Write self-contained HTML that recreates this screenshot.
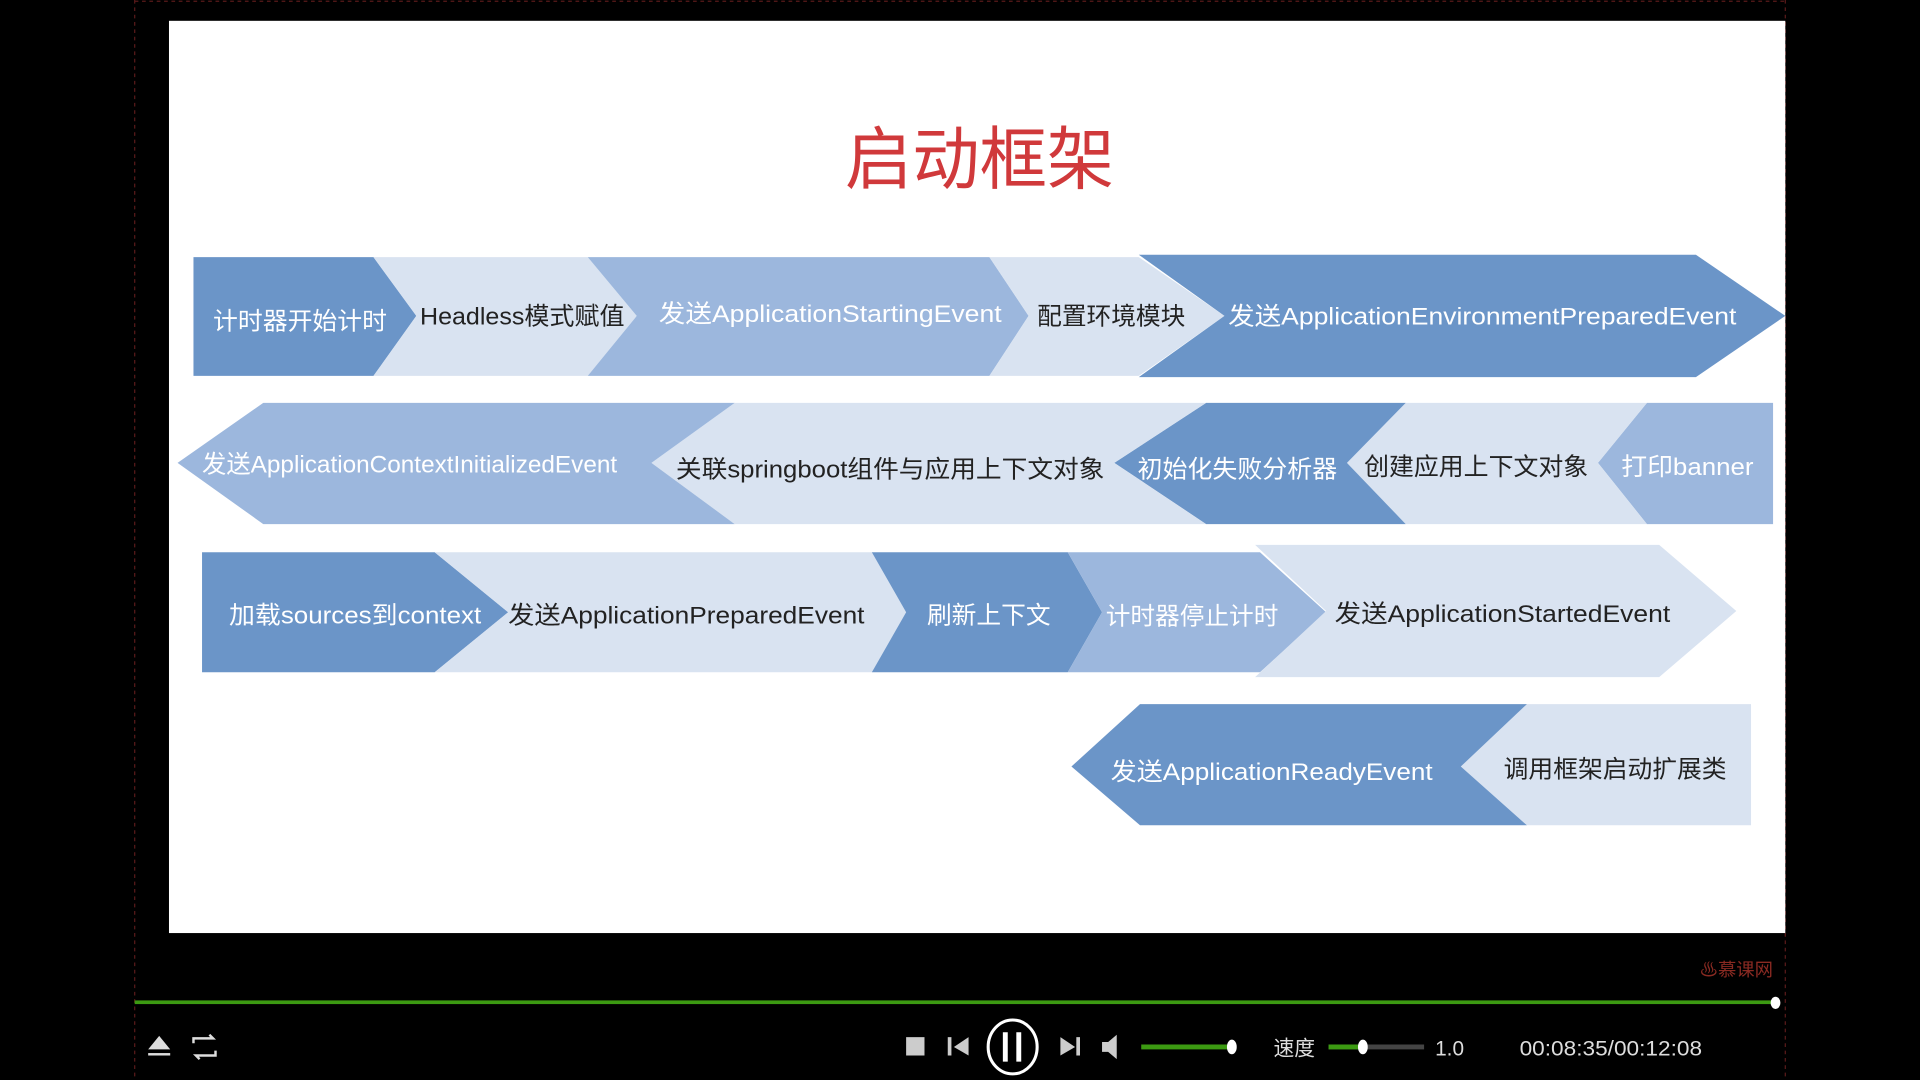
<!DOCTYPE html>
<html><head><meta charset="utf-8"><style>
html,body{margin:0;padding:0;background:#000;width:1920px;height:1080px;overflow:hidden}
svg{display:block}
text{font-family:"Liberation Sans","Noto Sans CJK SC",sans-serif}
</style></head><body>
<svg width="1920" height="1080" viewBox="0 0 1568 882" preserveAspectRatio="none">
<rect x="0" y="0" width="1568" height="882" fill="#000"/>
<line x1="110" y1="0" x2="110" y2="882" stroke="#5a1a1a" stroke-width="1" stroke-dasharray="3,3"/>
<line x1="1458" y1="0" x2="1458" y2="882" stroke="#5a1a1a" stroke-width="1" stroke-dasharray="3,3"/>
<line x1="110" y1="1" x2="1458" y2="1" stroke="#5a1a1a" stroke-width="1" stroke-dasharray="3,3"/>
<rect x="138" y="17" width="1320" height="745" fill="#fff"/>
<text x="800" y="150" text-anchor="middle" font-size="56" fill="#d0393b" textLength="220" lengthAdjust="spacingAndGlyphs">启动框架</text>

<g font-size="20">
<!-- row1 -->
<polygon fill="#6b95c8" points="158,210 305,210 340,258 305,307 158,307"/>
<polygon fill="#d9e3f1" points="305,210 480,210 520,258 480,307 305,307 340,258"/>
<polygon fill="#9cb7dd" points="480,210 808,210 840,258 808,307 480,307 520,258"/>
<polygon fill="#d9e3f1" points="808,210 930,210 1000,258 930,307 808,307 840,258"/>
<polygon fill="#6b95c8" points="930,208 1385,208 1458,258 1385,308 930,308 1000,258"/>
<text x="174" y="269" fill="#fff" textLength="142" lengthAdjust="spacingAndGlyphs">计时器开始计时</text>
<text x="343" y="265" fill="#222" textLength="167" lengthAdjust="spacingAndGlyphs">Headless模式赋值</text>
<text x="538" y="263" fill="#fff" textLength="280" lengthAdjust="spacingAndGlyphs">发送ApplicationStartingEvent</text>
<text x="847" y="265" fill="#222" textLength="121" lengthAdjust="spacingAndGlyphs">配置环境模块</text>
<text x="1003" y="265" fill="#fff" textLength="415" lengthAdjust="spacingAndGlyphs">发送ApplicationEnvironmentPreparedEvent</text>
<!-- row2 -->
<polygon fill="#9cb7dd" points="1448,329 1345,329 1305,378 1345,428 1448,428"/>
<polygon fill="#d9e3f1" points="1345,329 1148,329 1100,378 1148,428 1345,428 1305,378"/>
<polygon fill="#6b95c8" points="1148,329 985,329 910,378 985,428 1148,428 1100,378"/>
<polygon fill="#d9e3f1" points="985,329 600,329 532,378 600,428 985,428 910,378"/>
<polygon fill="#9cb7dd" points="600,329 215,329 145,378 215,428 600,428 532,378"/>
<text x="1324" y="388" fill="#fff" textLength="108" lengthAdjust="spacingAndGlyphs">打印banner</text>
<text x="1114" y="388" fill="#222" textLength="183" lengthAdjust="spacingAndGlyphs">创建应用上下文对象</text>
<text x="929" y="390" fill="#fff" textLength="163" lengthAdjust="spacingAndGlyphs">初始化失败分析器</text>
<text x="552" y="390" fill="#222" textLength="350" lengthAdjust="spacingAndGlyphs">关联springboot组件与应用上下文对象</text>
<text x="165" y="386" fill="#fff" textLength="339" lengthAdjust="spacingAndGlyphs">发送ApplicationContextInitializedEvent</text>
<!-- row3 -->
<polygon fill="#6b95c8" points="165,451 355,451 415,500 355,549 165,549"/>
<polygon fill="#d9e3f1" points="355,451 712,451 740,500 712,549 355,549 415,500"/>
<polygon fill="#6b95c8" points="712,451 872,451 900,500 872,549 712,549 740,500"/>
<polygon fill="#9cb7dd" points="872,451 1029,451 1083,500 1029,549 872,549 900,500"/>
<polygon fill="#d9e3f1" points="1025,445 1355,445 1418,499 1355,553 1025,553 1083,499"/>
<text x="187" y="509" fill="#fff" textLength="206" lengthAdjust="spacingAndGlyphs">加载sources到context</text>
<text x="415" y="509" fill="#222" textLength="291" lengthAdjust="spacingAndGlyphs">发送ApplicationPreparedEvent</text>
<text x="757" y="509" fill="#fff" textLength="101" lengthAdjust="spacingAndGlyphs">刷新上下文</text>
<text x="903" y="510" fill="#fff" textLength="141" lengthAdjust="spacingAndGlyphs">计时器停止计时</text>
<text x="1090" y="508" fill="#222" textLength="274" lengthAdjust="spacingAndGlyphs">发送ApplicationStartedEvent</text>
<!-- row4 -->
<polygon fill="#d9e3f1" points="1430,575 1247,575 1193,626 1247,674 1430,674"/>
<polygon fill="#6b95c8" points="1247,575 931,575 875,626 931,674 1247,674 1193,626"/>
<text x="907" y="637" fill="#fff" textLength="263" lengthAdjust="spacingAndGlyphs">发送ApplicationReadyEvent</text>
<text x="1228" y="635" fill="#222" textLength="182" lengthAdjust="spacingAndGlyphs">调用框架启动扩展类</text>
</g>

<!-- player -->
<text x="1388" y="797" font-size="15" fill="#8a2a22">♨慕课网</text>
<rect x="110" y="817" width="1340" height="3" fill="#3c9a12"/>
<ellipse cx="1450" cy="819" rx="4" ry="5" fill="#fff"/>
<g fill="#ddd" stroke="none">
<polygon points="130,846 139,857 121,857"/><rect x="121" y="860" width="18" height="2"/>
</g>
<path d="M158,852 v-4 h16 l-3,-3 M176,858 v4 h-16 l3,3" stroke="#ddd" stroke-width="2" fill="none"/>
<rect x="740" y="847" width="15" height="15" fill="#ccc"/>
<polygon points="774,847 777,847 777,862 774,862" fill="#ccc"/><polygon points="791,847 791,862 779,855" fill="#ccc"/>
<ellipse cx="827" cy="855" rx="20" ry="22" fill="none" stroke="#fff" stroke-width="2.5"/>
<rect x="819" y="843" width="4" height="24" fill="#fff"/><rect x="830" y="843" width="4" height="24" fill="#fff"/>
<polygon points="866,847 878,855 866,862" fill="#ccc"/><rect x="879" y="847" width="3" height="15" fill="#ccc"/>
<polygon points="900,851 905,851 912,845 912,865 905,859 900,859" fill="#ccc"/>
<rect x="932" y="853" width="74" height="4" fill="#3c9a12"/>
<ellipse cx="1006" cy="855" rx="4" ry="6" fill="#fff"/>
<text x="1040" y="862" font-size="17" fill="#ddd">速度</text>
<rect x="1085" y="853" width="78" height="4" fill="#444"/>
<rect x="1085" y="853" width="28" height="4" fill="#3c9a12"/>
<ellipse cx="1113" cy="855" rx="4" ry="6" fill="#fff"/>
<text x="1172" y="862" font-size="17" fill="#ddd">1.0</text>
<text x="1241" y="862" font-size="17" fill="#ddd" textLength="149" lengthAdjust="spacingAndGlyphs">00:08:35/00:12:08</text>
</svg>
</body></html>
